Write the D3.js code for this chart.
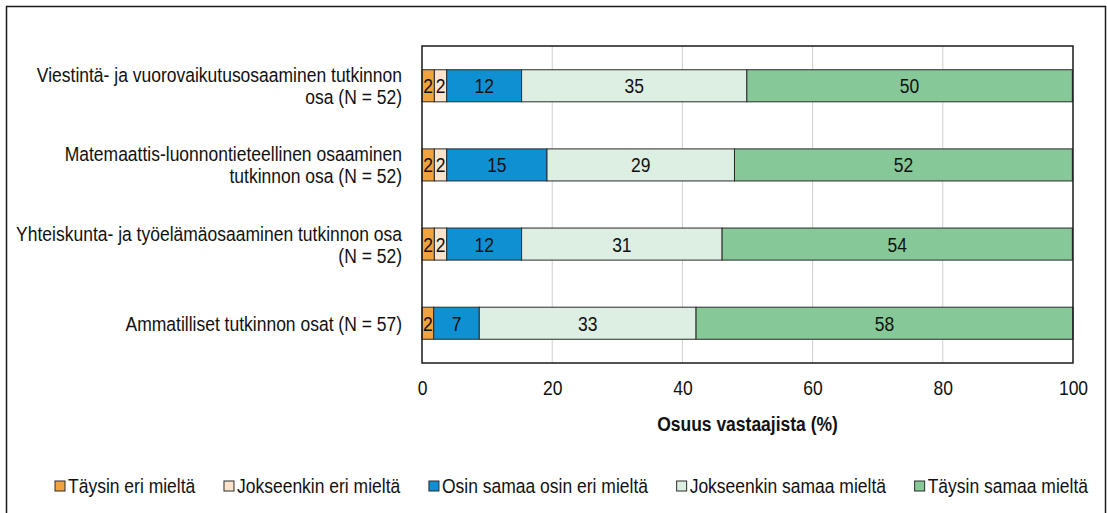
<!DOCTYPE html>
<html>
<head>
<meta charset="utf-8">
<script src="https://cdn.jsdelivr.net/npm/d3@7"></script>
<style>
    body { margin: 0; background: #fff; }
    svg { font-family: "Liberation Sans", Arial, sans-serif; }
</style>
</head>
<body>
<div id="container"></div>
<script>
    // Data (percent of respondents)
    let categories = [
        ["Viestintä- ja vuorovaikutusosaaminen tutkinnon", "osa (N = 52)"],
        ["Matemaattis-luonnontieteellinen osaaminen", "tutkinnon osa (N = 52)"],
        ["Yhteiskunta- ja työelämäosaaminen tutkinnon osa", "(N = 52)"],
        ["Ammatilliset tutkinnon osat (N = 57)"]
    ];
    let seriesNames = ["Täysin eri mieltä", "Jokseenkin eri mieltä", "Osin samaa osin eri mieltä",
        "Jokseenkin samaa mieltä", "Täysin samaa mieltä"];
    let taysinEri = [1.9, 1.9, 1.9, 1.8];
    let jokseenkinEri = [1.9, 1.9, 1.9, 0];
    let osin = [11.5, 15.4, 11.5, 7.0];
    let jokseenkinSamaa = [34.6, 28.8, 30.8, 33.3];
    let taysinSamaa = [50.0, 51.9, 53.8, 57.9];
    let xTicks = [0, 20, 40, 60, 80, 100];
    let colors = ["#F0A33F", "#FCE3CB", "#0F90D2", "#DDEEE2", "#87C898"];

    let series = [taysinEri, jokseenkinEri, osin, jokseenkinSamaa, taysinSamaa];

    let W = 1107, H = 513;
    let fs = 17.5;   // font size (horizontal)
    let sy = 1.18;   // text in the original is a bit taller than wide
    let margin = { top: 46, left: 422 };
    let width = 1073 - margin.left;
    let height = 363 - margin.top;

    // put text at (x, y), stretched vertically around its baseline
    function place(sel, fx, fy) {
        sel.attr("transform", (d, i) => `translate(${fx(d, i)}, ${fy(d, i)}) scale(1, ${sy})`);
    }

    let svg = d3.select("#container")
        .append("svg")
        .attr("width", W)
        .attr("height", H);

    // outer frame
    svg.append("rect")
        .attr("x", 6.5).attr("y", 6.5)
        .attr("width", 1099).attr("height", 520)
        .attr("fill", "none").attr("stroke", "#1a1a1a").attr("stroke-width", 1.5);

    let g = svg.append("g")
        .attr("transform", `translate(${margin.left}, ${margin.top})`);

    let x = d3.scaleLinear().domain([0, 100]).range([0, width]);
    let y = d3.scaleBand().domain(d3.range(categories.length)).range([0, height]).paddingInner(0.595).paddingOuter(0.3);

    // gridlines
    g.selectAll("line.grid")
        .data(xTicks.slice(1, -1))
        .enter()
        .append("line")
        .attr("x1", (d) => x(d)).attr("x2", (d) => x(d))
        .attr("y1", 0).attr("y2", height)
        .attr("stroke", "#d0d0d0").attr("stroke-width", 1);

    // stacked bars
    let rows = categories.map((c, i) => {
        let acc = 0;
        return series.map((s, k) => {
            let d = { row: i, k, v: s[i], x0: acc };
            acc += s[i];
            return d;
        });
    }).flat().filter((d) => d.v > 0);

    g.selectAll("rect.bar")
        .data(rows)
        .enter()
        .append("rect")
        .attr("x", (d) => x(d.x0))
        .attr("y", (d) => y(d.row))
        .attr("width", (d) => x(d.x0 + d.v) - x(d.x0))
        .attr("height", y.bandwidth())
        .attr("fill", (d) => colors[d.k])
        .attr("stroke", "#2b2b2b")
        .attr("stroke-width", 1);

    g.selectAll("text.val")
        .data(rows)
        .enter()
        .append("text")
        .call(place, (d) => x(d.x0 + d.v / 2), (d) => y(d.row) + y.bandwidth() / 2)
        .attr("dy", "0.36em")
        .attr("text-anchor", "middle")
        .attr("font-size", fs)
        .attr("fill", "#111")
        .text((d) => Math.round(d.v));

    // plot frame
    g.append("rect")
        .attr("width", width).attr("height", height)
        .attr("fill", "none").attr("stroke", "#1a1a1a").attr("stroke-width", 1.5);

    // category labels, one text per line
    let catLines = categories.flatMap((lines, i) =>
        lines.map((t, j) => ({ t, cy: y(i) + y.bandwidth() / 2 + (j - (lines.length - 1) / 2) * 22 })));
    g.selectAll("text.cat")
        .data(catLines)
        .enter()
        .append("text")
        .call(place, () => -20, (d) => d.cy)
        .attr("dy", "0.36em")
        .attr("text-anchor", "end")
        .attr("font-size", fs)
        .attr("fill", "#111")
        .text((d) => d.t);

    // x axis
    let xAxis = g.append("g")
        .attr("transform", `translate(0, ${height})`)
        .call(d3.axisBottom(x).tickValues(xTicks).tickSize(0));
    xAxis.select(".domain").remove();
    xAxis.selectAll("text")
        .attr("y", 0).attr("dy", "0.36em")
        .attr("transform", `translate(0, 25) scale(1, ${sy})`)
        .attr("font-size", fs)
        .attr("font-family", "Liberation Sans, Arial, sans-serif")
        .attr("fill", "#111");

    g.append("text")
        .call(place, () => width / 2, () => height + 61)
        .attr("dy", "0.36em")
        .attr("text-anchor", "middle")
        .attr("font-size", fs)
        .attr("font-weight", "bold")
        .attr("fill", "#111")
        .text("Osuus vastaajista (%)");

    // legend, evenly spaced between its two ends
    let legStart = 55, legEnd = 1088, box = 10, boxGap = 3;
    let legend = svg.selectAll("g.leg")
        .data(seriesNames)
        .enter()
        .append("g");
    legend.append("rect")
        .attr("x", 0).attr("y", -5)
        .attr("width", box).attr("height", box)
        .attr("fill", (d, i) => colors[i])
        .attr("stroke", "#2b2b2b").attr("stroke-width", 1);
    legend.append("text")
        .call(place, () => box + boxGap, () => 0)
        .attr("dy", "0.36em")
        .attr("font-size", fs)
        .attr("fill", "#111")
        .text((d) => d);
    let itemW = legend.nodes().map((n) => box + boxGap + d3.select(n).select("text").node().getComputedTextLength());
    let gap = (legEnd - legStart - d3.sum(itemW)) / (itemW.length - 1);
    let pos = legStart;
    legend.attr("transform", (d, i) => {
        let t = `translate(${pos}, 486)`;
        pos += itemW[i] + gap;
        return t;
    });
</script>
</body>
</html>
